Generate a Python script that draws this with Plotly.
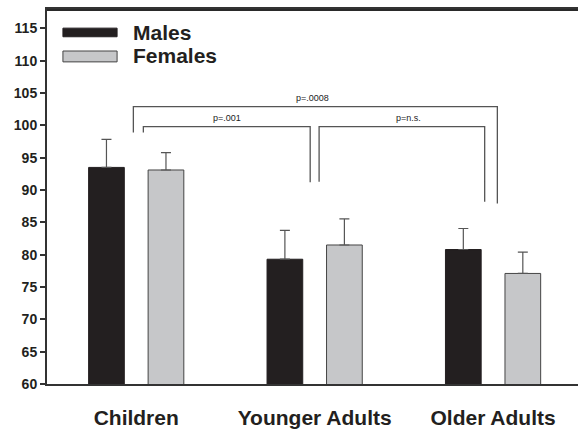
import plotly.graph_objects as go

# ---- data ----
groups = ["Children", "Younger Adults", "Older Adults"]
series_names = ["Males", "Females"]
males_mean = [93.5, 79.3, 80.8]
males_err = [4.35, 4.45, 3.25]
females_mean = [93.1, 81.5, 77.1]
females_err = [2.7, 4.05, 3.3]
y_ticks = [60, 65, 70, 75, 80, 85, 90, 95, 100, 105, 110, 115]
y_range = [60, 118]

# comparisons: (left group, right group, label, bracket top, left leg end, right leg end)
comparisons = [
    ("Children", "Older Adults", "p=.0008", 102.9, 98.9, 87.9),
    ("Children", "Younger Adults", "p=.001", 99.8, 98.9, 91.2),
    ("Younger Adults", "Older Adults", "p=n.s.", 99.8, 91.3, 88.2),
]

male_color = "#231f20"
female_color = "#c6c7c9"
font_family = "Arial, Liberation Sans, Helvetica, sans-serif"

fig = go.Figure()
fig.add_trace(go.Bar(
    x=groups, y=males_mean, name=series_names[0],
    marker=dict(color=male_color, line=dict(color="#231f20", width=1)),
    error_y=dict(type="data", array=males_err, symmetric=False,
                 arrayminus=[0] * len(males_err), color="#555555",
                 thickness=1.2, width=5),
    showlegend=False,
))
fig.add_trace(go.Bar(
    x=groups, y=females_mean, name=series_names[1],
    marker=dict(color=female_color, line=dict(color="#444444", width=1)),
    error_y=dict(type="data", array=females_err, symmetric=False,
                 arrayminus=[0] * len(females_err), color="#555555",
                 thickness=1.2, width=5),
    showlegend=False,
))

# significance brackets
offsets = {  # (left offset, right offset) relative to group index
    "p=.0008": (-0.016, 0.024),
    "p=.001": (0.04, -0.025),
    "p=n.s.": (0.025, -0.047),
}
label_shift = {"p=.0008": -3, "p=.001": 0, "p=n.s.": 7}
bracket_color = "#555555"
for g1, g2, lab, top, l_end, r_end in comparisons:
    lo, ro = offsets[lab]
    x1 = groups.index(g1) + lo
    x2 = groups.index(g2) + ro
    path = f"M {x1} {l_end} L {x1} {top} L {x2} {top} L {x2} {r_end}"
    fig.add_shape(type="path", path=path, xref="x", yref="y",
                  line=dict(color=bracket_color, width=1.3))
    fig.add_annotation(x=(x1 + x2) / 2, y=top, xref="x", yref="y",
                       text=lab, showarrow=False, yanchor="bottom",
                       xshift=label_shift[lab], yshift=2,
                       font=dict(family=font_family, size=9, color="#222222"))

# top frame of the plot area, tied to the top of the y range
fig.add_shape(type="line", xref="paper", yref="y", x0=0, x1=1,
              y0=y_range[1] - 0.1, y1=y_range[1] - 0.1,
              line=dict(color="#2a2a2a", width=2.5), layer="above")

# custom legend (wide swatches)
legend_items = [
    (series_names[0], male_color, "#231f20", 0.926, 0.949, 0.938),
    (series_names[1], female_color, "#444444", 0.859, 0.888, 0.875),
]
for name, fill, edge, y0, y1, yt in legend_items:
    fig.add_shape(type="rect", xref="paper", yref="paper",
                  x0=0.030, x1=0.132, y0=y0, y1=y1,
                  fillcolor=fill, line=dict(color=edge, width=1))
    fig.add_annotation(x=0.158, y=yt, xref="paper", yref="paper",
                       text=f"<b>{name}</b>", showarrow=False,
                       xanchor="left", yanchor="middle",
                       font=dict(family=font_family, size=21, color="#231f20"))

fig.update_layout(
    width=578, height=431,
    margin=dict(l=47, r=0, t=9, b=47),
    paper_bgcolor="white", plot_bgcolor="white",
    barmode="group", bargap=0.333, bargroupgap=0.4,
    font=dict(family=font_family, color="#231f20"),
    xaxis=dict(
        type="category", range=[-0.5, 2.476],
        tickvals=groups, ticktext=[f"<b>{g}</b>" for g in groups],
        tickfont=dict(size=21, color="#231f20"),
        showline=True, linecolor="#333333", linewidth=2, mirror=True,
        ticks="", showgrid=False, zeroline=False,
        ticklabelstandoff=14, automargin=False,
    ),
    yaxis=dict(
        range=y_range, tickvals=y_ticks,
        tickfont=dict(size=14, color="#231f20", weight="bold"),
        showline=True, linecolor="#333333", linewidth=2,
        ticks="outside", ticklen=5, tickwidth=2, tickcolor="#333333",
        showgrid=False, zeroline=False, automargin=False,
    ),
)

fig.write_html("out.html", config={"displayModeBar": False},
               post_script="document.body.style.margin='0';")
